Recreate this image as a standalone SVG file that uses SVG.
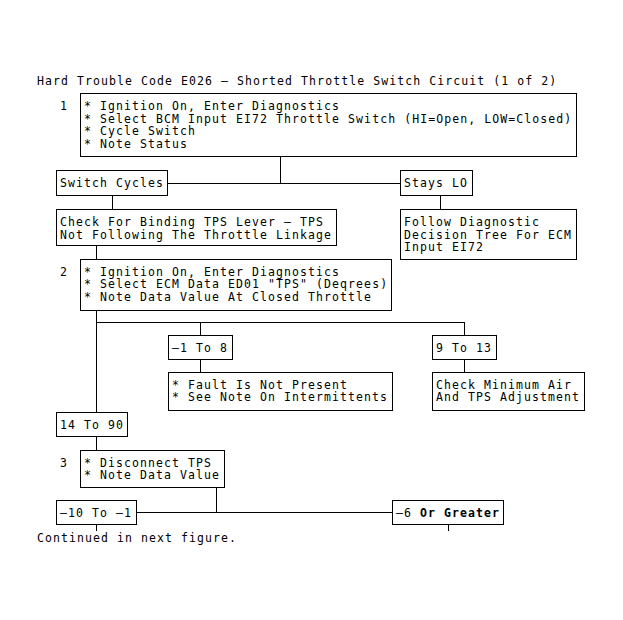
<svg xmlns="http://www.w3.org/2000/svg" width="623" height="620" viewBox="0 0 623 620">
<style>
text{font-family:"DejaVu Sans Mono","Liberation Mono",monospace;font-size:11.5px;letter-spacing:1.08px;fill:#000}
.b{font-weight:bold}
rect{fill:#fff;stroke:#000;stroke-width:1}
line{stroke:#000;stroke-width:1}
</style>
<rect x="0" y="0" width="623" height="620" style="stroke:none"/>
<text x="37" y="85">Hard Trouble Code E026 – Shorted Throttle Switch Circuit (1 of 2)</text>
<g id="connectors" shape-rendering="crispEdges">
<line x1="280.5" y1="157" x2="280.5" y2="183.5"/>
<line x1="168" y1="183.5" x2="400" y2="183.5"/>
<line x1="112.5" y1="196" x2="112.5" y2="209"/>
<line x1="440.5" y1="196" x2="440.5" y2="209"/>
<line x1="96.5" y1="246" x2="96.5" y2="259"/>
<line x1="96.5" y1="311" x2="96.5" y2="412"/>
<line x1="96.5" y1="322.5" x2="464.5" y2="322.5"/>
<line x1="200.5" y1="322.5" x2="200.5" y2="335"/>
<line x1="200.5" y1="360" x2="200.5" y2="372"/>
<line x1="464.5" y1="322.5" x2="464.5" y2="335"/>
<line x1="464.5" y1="360" x2="464.5" y2="372"/>
<line x1="96.5" y1="437" x2="96.5" y2="450"/>
<line x1="216.5" y1="488" x2="216.5" y2="512.5"/>
<line x1="137" y1="512.5" x2="392" y2="512.5"/>
<line x1="96.5" y1="525" x2="96.5" y2="531"/>
<line x1="448.5" y1="525" x2="448.5" y2="531"/>
</g>
<g id="step1" shape-rendering="crispEdges">
<text x="60" y="110">1</text>
<rect x="80.5" y="93.5" width="496" height="63"/>
<text x="84" y="110">* Ignition On, Enter Diagnostics</text>
<text x="84" y="122.5">* Select BCM Input EI72 Throttle Switch (HI=Open, LOW=Closed)</text>
<text x="84" y="135">* Cycle Switch</text>
<text x="84" y="147.5">* Note Status</text>
</g>
<g id="switch-cycles" shape-rendering="crispEdges">
<rect x="56.5" y="170.5" width="111" height="25"/>
<text x="60" y="187">Switch Cycles</text>
</g>
<g id="stays-lo" shape-rendering="crispEdges">
<rect x="400.5" y="170.5" width="72" height="25"/>
<text x="404" y="187">Stays LO</text>
</g>
<g id="check-binding" shape-rendering="crispEdges">
<rect x="56.5" y="209.5" width="280" height="36"/>
<text x="60" y="226">Check For Binding TPS Lever – TPS</text>
<text x="60" y="238.5">Not Following The Throttle Linkage</text>
</g>
<g id="follow-tree" shape-rendering="crispEdges">
<rect x="400.5" y="209.5" width="176" height="50"/>
<text x="404" y="226">Follow Diagnostic</text>
<text x="404" y="238.5">Decision Tree For ECM</text>
<text x="404" y="251">Input EI72</text>
</g>
<g id="step2" shape-rendering="crispEdges">
<text x="60" y="275.5">2</text>
<rect x="80.5" y="259.5" width="311" height="51"/>
<text x="84" y="275.5">* Ignition On, Enter Diagnostics</text>
<text x="84" y="288">* Select ECM Data ED01 "TPS" (Deqrees)</text>
<text x="84" y="300.5">* Note Data Value At Closed Throttle</text>
</g>
<g id="range-m1-8" shape-rendering="crispEdges">
<rect x="168.5" y="335.5" width="64" height="24"/>
<text x="172" y="351.5">–1 To 8</text>
</g>
<g id="fault-not-present" shape-rendering="crispEdges">
<rect x="168.5" y="372.5" width="224" height="38"/>
<text x="172" y="388.5">* Fault Is Not Present</text>
<text x="172" y="401">* See Note On Intermittents</text>
</g>
<g id="range-9-13" shape-rendering="crispEdges">
<rect x="432.5" y="335.5" width="64" height="24"/>
<text x="436" y="351.5">9 To 13</text>
</g>
<g id="check-min-air" shape-rendering="crispEdges">
<rect x="432.5" y="372.5" width="152" height="38"/>
<text x="436" y="388.5">Check Minimum Air</text>
<text x="436" y="401">And TPS Adjustment</text>
</g>
<g id="range-14-90" shape-rendering="crispEdges">
<rect x="56.5" y="412.5" width="71" height="24"/>
<text x="60" y="428.5">14 To 90</text>
</g>
<g id="step3" shape-rendering="crispEdges">
<text x="60" y="466.5">3</text>
<rect x="80.5" y="450.5" width="144" height="37"/>
<text x="84" y="466.5">* Disconnect TPS</text>
<text x="84" y="479">* Note Data Value</text>
</g>
<g id="range-m10-m1" shape-rendering="crispEdges">
<rect x="56.5" y="500.5" width="80" height="24"/>
<text x="60" y="516.5">–10 To –1</text>
</g>
<g id="range-m6-greater" shape-rendering="crispEdges">
<rect x="392.5" y="500.5" width="111" height="24"/>
<text x="396" y="516.5">–6 <tspan class="b">Or Greater</tspan></text>
</g>
<text x="37" y="542">Continued in next figure.</text>
</svg>
